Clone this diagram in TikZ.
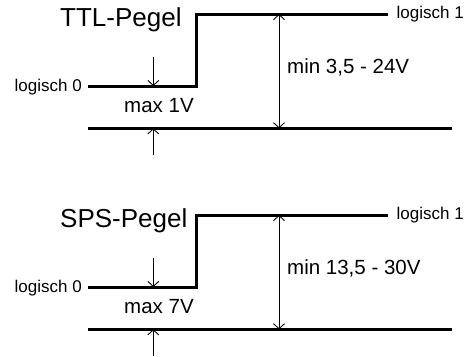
\documentclass[tikz,border=0pt]{standalone}
\usepackage{fontspec}
\setmainfont{Liberation Sans}
\usetikzlibrary{arrows.meta}
\begin{document}
\begin{tikzpicture}[x=1pt,y=-1pt,
  signal/.style={line width=3pt},
  dimline/.style={line width=1pt,-{Straight Barb[length=5pt,width=11pt,line width=0.9pt]}},
  dimboth/.style={line width=1pt,{Straight Barb[length=5pt,width=11pt,line width=0.9pt]}-{Straight Barb[length=5pt,width=11pt,line width=0.9pt]}},
  title/.style={inner sep=0pt,font=\fontsize{26}{30}\selectfont},
  small/.style={inner sep=0pt,font=\fontsize{17}{20}\selectfont},
  mid/.style={inner sep=0pt,font=\fontsize{20.5}{24}\selectfont}]
\useasboundingbox (0,0) rectangle (473,356);
\foreach \oy/\name/\maxv/\minv [count=\i] in {0/TTL-Pegel/max 1V/{min 3,5 - 24V},201/SPS-Pegel/max 7V/{min 13,5 - 30V}}{
  \begin{scope}[yshift=-\oy pt]
    \coordinate (l0\i) at (88,86);
    \coordinate (su\i) at (196,86);
    \coordinate (so\i) at (196,14);
    \coordinate (h1\i) at (388,14);
    \coordinate (bl\i) at (88,128.3);
    \coordinate (br\i) at (452,128.3);
    \coordinate (dt\i) at (153.3,57);
    \coordinate (db\i) at (153.3,86);
    \coordinate (ut\i) at (153.3,128.3);
    \coordinate (ub\i) at (153.3,155);
    \coordinate (vt\i) at (279,14);
    \coordinate (vb\i) at (279,128.3);
    \draw[signal] (l0\i) -- (su\i) -- (so\i) -- (h1\i);
    \draw[signal] (bl\i) -- (br\i);
    \draw[dimline] (dt\i) -- (db\i);
    \draw[dimline] (ub\i) -- (ut\i);
    \draw[dimboth] (vt\i) -- (vb\i);
    \node[title,anchor=base west] (t\i) at (60,26.7) {\name};
    \node[small,anchor=base east] (z\i) at (82,91.7) {logisch 0};
    \node[small,anchor=base west] (e\i) at (396.5,18.6) {logisch 1};
    \node[mid,anchor=base west] (m\i) at (124,112.7) {\maxv};
    \node[mid,anchor=base west] (n\i) at (287,73.4) {\minv};
  \end{scope}
}
\end{tikzpicture}
\end{document}
